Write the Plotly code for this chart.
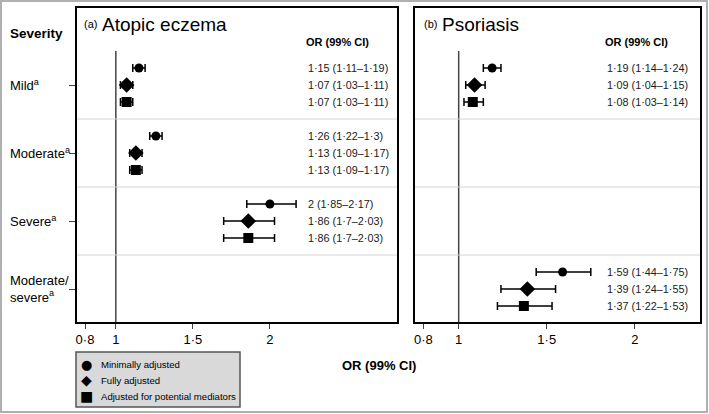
import plotly.graph_objects as go

W, H = 709, 414

# data -------------------------------------------------------------
severity = ["Mild<sup>a</sup>", "Moderate<sup>a</sup>", "Severe<sup>a</sup>", "Moderate/<br>severe<sup>a</sup>"]
models = ["Minimally adjusted", "Fully adjusted", "Adjusted for potential mediators"]
symbols = ["circle", "diamond", "square"]
legend_glyphs = ["●", "◆", "■"]
sizes = [9, 12, 10]

# odds ratios, one list per model, one value per severity group (None = not estimated)
ae_or = [[1.15, 1.26, 2.00, None], [1.07, 1.13, 1.86, None], [1.07, 1.13, 1.86, None]]
ae_lo = [[1.11, 1.22, 1.85, None], [1.03, 1.09, 1.70, None], [1.03, 1.09, 1.70, None]]
ae_hi = [[1.19, 1.30, 2.17, None], [1.11, 1.17, 2.03, None], [1.11, 1.17, 2.03, None]]

ps_or = [[1.19, None, None, 1.59], [1.09, None, None, 1.39], [1.08, None, None, 1.37]]
ps_lo = [[1.14, None, None, 1.44], [1.04, None, None, 1.24], [1.03, None, None, 1.22]]
ps_hi = [[1.24, None, None, 1.75], [1.15, None, None, 1.55], [1.14, None, None, 1.53]]

tick_vals = [0.8, 1, 1.5, 2]
tick_text = ["0·8", "1", "1·5", "2"]


def px_x(p):
    return p / W


def px_y(p):
    return 1 - p / H


def fmt(v):
    return f"{v:g}".replace(".", "·")


font = "Liberation Sans, Arial, sans-serif"
fig = go.Figure()
annotations = []

panels = [("x", "y", ae_or, ae_lo, ae_hi, 2.235), ("x2", "y2", ps_or, ps_lo, ps_hi, 1.83)]
for xa, ya, ors, los, his, lab_x in panels:
    for m in range(3):
        xs, ys, ep, em = [], [], [], []
        for g in range(4):
            v = ors[m][g]
            if v is None:
                continue
            xs.append(v)
            ys.append(g * 4 + m)
            ep.append(his[m][g] - v)
            em.append(v - los[m][g])
            annotations.append(dict(
                x=lab_x, y=g * 4 + m, xref=xa, yref=ya, xanchor="left", yanchor="middle",
                showarrow=False, text=f"{fmt(v)} ({fmt(los[m][g])}–{fmt(his[m][g])})",
                font=dict(size=10.8, color="#1a1a1a")))
        fig.add_trace(go.Scatter(
            x=xs, y=ys, xaxis=xa, yaxis=ya, mode="markers", showlegend=False,
            name=models[m],
            marker=dict(symbol=symbols[m], size=sizes[m], color="black"),
            error_x=dict(type="data", array=ep, arrayminus=em, color="black",
                         thickness=1.5, width=4)))

# shapes: reference line and group separators
shapes = []
for xa, ya in [("x", "y"), ("x2", "y2")]:
    shapes.append(dict(type="line", xref=xa, yref=ya, x0=1, x1=1, y0=-1, y1=14.95,
                       line=dict(color="#444", width=1.5)))
    for s in [3, 7, 11]:
        shapes.append(dict(type="line", xref=f"{xa} domain", yref=ya, x0=0, x1=1, y0=s, y1=s,
                           line=dict(color="#d4d4d4", width=1)))
# outer frame and legend box
shapes.append(dict(type="rect", xref="paper", yref="paper",
                   x0=px_x(1), x1=px_x(707), y0=px_y(412), y1=px_y(1),
                   line=dict(color="#b0b0b0", width=2)))
shapes.append(dict(type="rect", xref="paper", yref="paper",
                   x0=px_x(76), x1=px_x(240), y0=px_y(407), y1=px_y(352),
                   fillcolor="#d9d9d9", line=dict(color="#555", width=1.5)))

# text
annotations += [
    dict(x=px_x(8), y=px_y(33), text="<b>Severity</b>", font=dict(size=13.5)),
    dict(x=px_x(82), y=px_y(24), text="(a)", font=dict(size=11)),
    dict(x=px_x(100), y=px_y(24), text="Atopic eczema", font=dict(size=19)),
    dict(x=px_x(422), y=px_y(24), text="(b)", font=dict(size=11)),
    dict(x=px_x(440), y=px_y(24), text="Psoriasis", font=dict(size=19)),
    dict(x=px_x(304), y=px_y(42), text="<b>OR (99% CI)</b>", font=dict(size=11)),
    dict(x=px_x(603), y=px_y(42), text="<b>OR (99% CI)</b>", font=dict(size=11)),
    dict(x=px_x(340), y=px_y(365), text="<b>OR (99% CI)</b>", font=dict(size=13)),
]
for m in range(3):
    annotations.append(dict(x=px_x(86), y=px_y(364 + 16 * m), xanchor="center",
                            text=legend_glyphs[m],
                            font=dict(size=[13, 14, 14][m], family="DejaVu Sans")))
    annotations.append(dict(x=px_x(99), y=px_y(364 + 16 * m), xanchor="left",
                            text=models[m], font=dict(size=9.6)))
for a in annotations[-14:]:
    a.setdefault("xanchor", "left")
    a.update(xref="paper", yref="paper", yanchor="middle", showarrow=False)
for g, lab in enumerate(severity):
    annotations.append(dict(x=px_x(8), y=g * 4 + 1, xref="paper", yref="y", xanchor="left",
                            yanchor="middle", align="left", showarrow=False, text=lab,
                            font=dict(size=13)))

axis_common = dict(showline=True, mirror=True, linecolor="black", linewidth=1.5,
                   showgrid=False, zeroline=False)
fig.update_layout(
    width=W, height=H, margin=dict(l=0, r=0, t=0, b=0),
    paper_bgcolor="white", plot_bgcolor="white", showlegend=False,
    font=dict(family=font, color="black"),
    xaxis=dict(domain=[px_x(77), px_x(397)], range=[0.748, 2.825], tickvals=tick_vals,
               ticktext=tick_text, ticks="outside", ticklen=5, tickfont=dict(size=13),
               anchor="y", **axis_common),
    yaxis=dict(domain=[px_y(322), px_y(8)], range=[14.94, -3.53], tickvals=[1, 5, 9, 13],
               ticks="outside", ticklen=6, showticklabels=False, anchor="x", **axis_common),
    xaxis2=dict(domain=[px_x(415), px_x(700)], range=[0.752, 2.37], tickvals=tick_vals,
                ticktext=tick_text, ticks="outside", ticklen=5, tickfont=dict(size=13),
                anchor="y2", **axis_common),
    yaxis2=dict(domain=[px_y(322), px_y(8)], range=[14.94, -3.53], showticklabels=False,
                ticks="", anchor="x2", **axis_common),
    shapes=shapes, annotations=annotations,
)

fig.write_html("out.html", config={"displayModeBar": False},
               post_script="document.body.style.margin='0';")
